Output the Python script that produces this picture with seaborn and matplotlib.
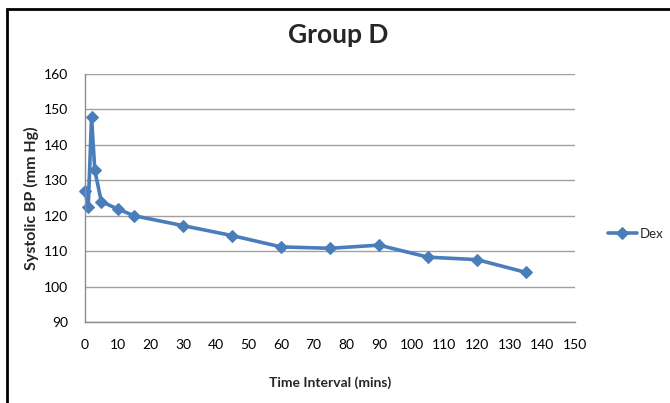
import matplotlib
matplotlib.use("Agg")
import matplotlib.pyplot as plt
import seaborn as sns
import pandas as pd
from matplotlib.patches import Rectangle

time_mins = [0, 1, 2, 3, 5, 10, 15, 30, 45, 60, 75, 90, 105, 120, 135]
systolic_bp = [127, 122.5, 147.8, 132.8, 124, 121.9, 120, 117.2, 114.4, 111.2, 110.8, 111.7, 108.3, 107.6, 104.0]
series_name = "Dex"
x_ticks = list(range(0, 151, 10))
y_ticks = list(range(90, 161, 10))

df = pd.DataFrame({"Time": time_mins, "BP": systolic_bp, "Group": series_name})

sns.set_theme(style="white")
plt.rcParams["font.family"] = ["Lato", "DejaVu Sans"]

fig = plt.figure(figsize=(6.7, 4.03), dpi=100)
ax = fig.add_axes([85/670, 1 - 322/403, (575-85)/670, (322-74)/403])

color = "#4A7EBB"
sns.lineplot(data=df, x="Time", y="BP", hue="Group", palette=[color], ax=ax,
             marker="D", markersize=6.5, linewidth=2.6, markeredgecolor=color,
             legend=True)
for ln in ax.lines:
    ln.set_clip_on(False)

ax.set_xlim(0, 150)
ax.set_ylim(90, 160)
ax.set_xticks(x_ticks)
ax.set_yticks(y_ticks)
ax.grid(axis="y", color="#A0A0A0", linewidth=1.0)
ax.grid(axis="x", visible=False)
ax.set_axisbelow(True)
for s in ["top", "right"]:
    ax.spines[s].set_visible(False)
for s in ["left", "bottom"]:
    ax.spines[s].set_color("#8C8C8C")
    ax.spines[s].set_linewidth(1.0)
ax.tick_params(axis="both", which="major", direction="out", length=4, width=1,
               color="#8C8C8C", labelsize=10, labelcolor="#000000")
ax.tick_params(axis="x", pad=8)
ax.tick_params(axis="y", pad=8)

ax.set_xlabel("Time Interval (mins)", fontsize=10, fontweight="bold")
ax.set_ylabel("Systolic BP (mm Hg)", fontsize=11.5, fontweight="bold")
ax.xaxis.set_label_coords((330-85)/490, 1 - (383-74)/248)
ax.xaxis.label.set_verticalalignment("center")
ax.yaxis.set_label_coords((31-85)/490, 1 - (198-74)/248)
ax.yaxis.label.set_verticalalignment("center")

fig.text(338/670, 1 - 35/403, "Group D", ha="center", va="center",
         fontsize=19, fontweight="bold")

leg = ax.legend(loc="center left", bbox_to_anchor=(1.056, 1 - (234-74)/(322-74)),
                frameon=False, fontsize=9.5, handlelength=2.2, handletextpad=0.25,
                borderaxespad=0)

fig.patches.append(Rectangle((7/670, -0.1), 1.2, 1 - 9/403 + 0.1,
                             transform=fig.transFigure, fill=False,
                             edgecolor="black", linewidth=2, figure=fig))

fig.savefig("out.png", dpi=100)
